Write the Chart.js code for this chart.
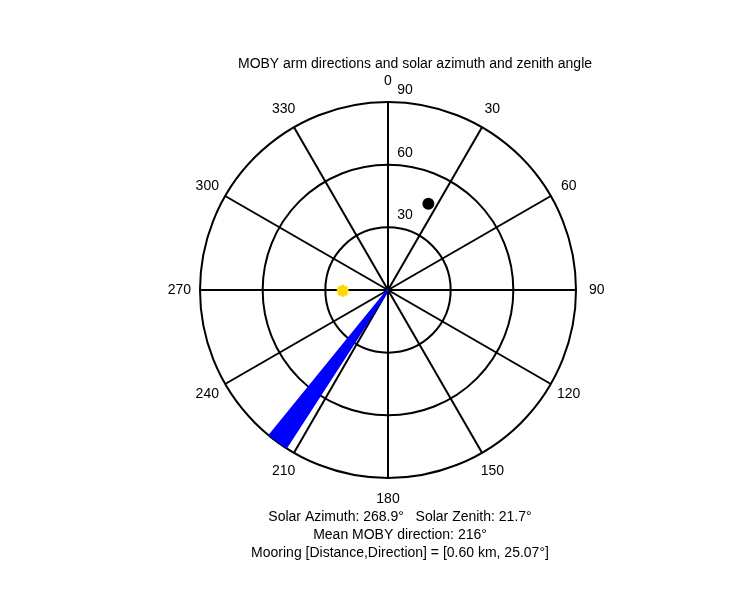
<!DOCTYPE html>
<html><head><meta charset="utf-8">
<script src="https://cdn.jsdelivr.net/npm/chart.js@4/dist/chart.umd.min.js"></script>
<style>html,body{margin:0;background:#fff}#w{width:750px;height:600px}</style>
</head><body><div id="w"><canvas id="c"></canvas></div>
<script>
const title = "MOBY arm directions and solar azimuth and zenith angle";
const footer = ["Solar Azimuth: 268.9\u00b0   Solar Zenith: 21.7\u00b0","Mean MOBY direction: 216\u00b0","Mooring [Distance,Direction] = [0.60 km, 25.07\u00b0]"];
const ringValues = [30, 60, 90];
const spokeAngles = [0,30,60,90,120,150,180,210,240,270,300,330];
const armDirections = [212.9,213.4,213.9,214.4,214.9,215.4,215.9,216.4,216.9,217.4,217.9,218.4,218.9,219.1];
const armLength = 90;
const solar = {az:268.9, zen:21.7};
const mooring = {dir:25.07, r:45.6};
const rMax = 90;

function pol(az, r){const a=az*Math.PI/180;return {x:r*Math.sin(a), y:r*Math.cos(a)};}

const armPts=[];
armDirections.forEach(d=>{armPts.push({x:0,y:0});armPts.push(pol(d,armLength));});

const gridPlugin={id:'grid',
 beforeDatasetsDraw(ch){
  const ctx=ch.ctx,xs=ch.scales.x,ys=ch.scales.y;
  const cx=xs.getPixelForValue(0),cy=ys.getPixelForValue(0);
  const k=(xs.getPixelForValue(rMax)-cx)/rMax;
  ctx.save();ctx.strokeStyle='#000';ctx.lineWidth=2;
  ringValues.forEach(r=>{ctx.beginPath();ctx.arc(cx,cy,r*k,0,2*Math.PI);ctx.stroke();});
  ctx.lineWidth=2;
  spokeAngles.forEach(a=>{const p=pol(a,rMax);ctx.beginPath();ctx.moveTo(cx,cy);ctx.lineTo(xs.getPixelForValue(p.x),ys.getPixelForValue(p.y));ctx.stroke();});
  ctx.fillStyle='#000';ctx.font='14px "Liberation Sans", Arial, sans-serif';ctx.textAlign='center';ctx.textBaseline='middle';
  spokeAngles.forEach(a=>{const p=pol(a,rMax*1.11);ctx.fillText(String(a),xs.getPixelForValue(p.x),ys.getPixelForValue(p.y));});
  ringValues.forEach(r=>{ctx.fillText(String(r),cx+17,cy-r*k-12);});
  ctx.fillText(title,415,64);
  footer.forEach((t,i)=>ctx.fillText(t,400,517+i*18));
  ctx.restore();
 }};

new Chart(document.getElementById('c'),{
 type:'scatter',
 data:{datasets:[
  {data:armPts,showLine:true,borderColor:'#0000ff',borderWidth:2.5,pointRadius:0,fill:false},
  {data:[pol(solar.az,solar.zen)],pointRadius:6,pointStyle:'star',borderColor:'#ffd700',backgroundColor:'#ffd700',borderWidth:3},
  {data:[pol(solar.az,solar.zen)],pointRadius:5,backgroundColor:'#ffdd00',borderWidth:0},
  {data:[pol(mooring.dir,mooring.r)],pointRadius:6,backgroundColor:'#000',borderWidth:0}
 ]},
 options:{responsive:true,maintainAspectRatio:false,animation:false,
  layout:{padding:{left:200,right:174,top:102,bottom:122}},
  plugins:{legend:{display:false},tooltip:{enabled:false}},
  scales:{x:{type:'linear',min:-rMax,max:rMax,display:false},y:{type:'linear',min:-rMax,max:rMax,display:false}}},
 plugins:[gridPlugin]});
</script></body></html>
